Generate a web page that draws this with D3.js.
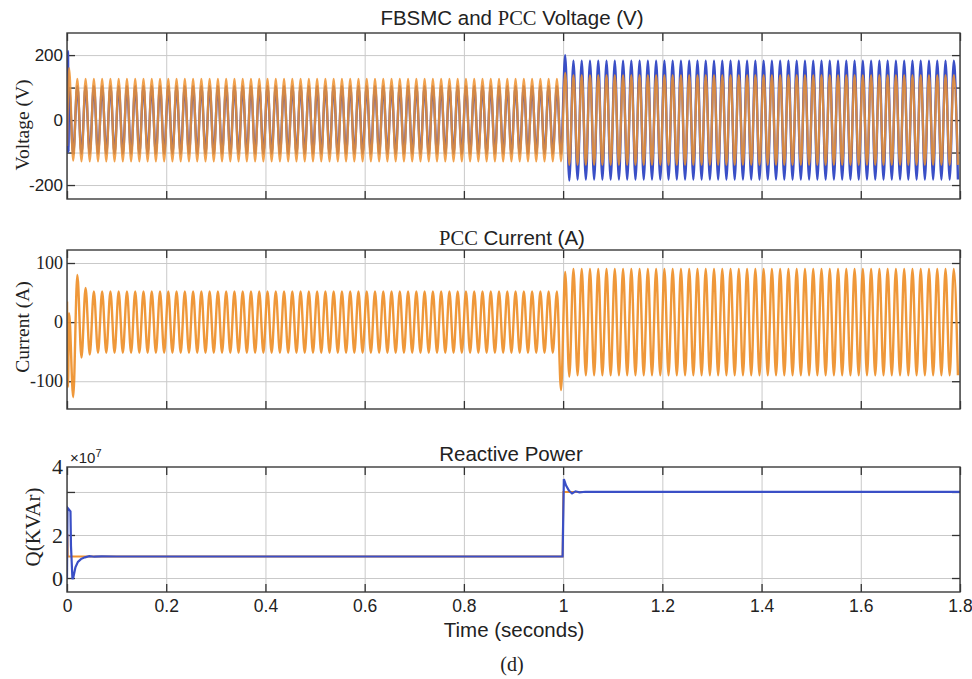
<!DOCTYPE html>
<html>
<head>
<meta charset="utf-8">
<script src="https://cdn.jsdelivr.net/npm/d3@7"></script>
<style>
  body { margin: 0; background: #fff; }
  .sans { font-family: "Liberation Sans", Arial, sans-serif; }
  .serif { font-family: "Liberation Serif", "Times New Roman", serif; }
</style>
</head>
<body>
<svg id="chart" width="972" height="679"></svg>
<script>
// ---- data ----
var gridHz = 60; // each entry below is one half-cycle extreme (|value|), signs alternate +,-,+,...
var timeTicks = [0, 0.2, 0.4, 0.6, 0.8, 1, 1.2, 1.4, 1.6, 1.8];
var timeLabels = ["0", "0.2", "0.4", "0.6", "0.8", "1", "1.2", "1.4", "1.6", "1.8"];

// FBSMC voltage (orange), volts
var vFbsmcStart = [[0, -80]];
var vFbsmcPeaks = [
  160,125,127,127,127,127,127,127,127,127,127,127,127,127,127,127,127,127,127,127,127,127,127,127,
  127,127,127,127,127,127,127,127,127,127,127,127,127,127,127,127,127,127,127,127,127,127,127,127,
  127,127,127,127,127,127,127,127,127,127,127,127,127,127,127,127,127,127,127,127,127,127,127,127,
  127,127,127,127,127,127,127,127,127,127,127,127,127,127,127,127,127,127,127,127,127,127,127,127,
  127,127,127,127,127,127,127,127,127,127,127,127,127,127,127,127,127,127,127,127,127,127,127,127,
  145,138,138,138,138,138,138,138,138,138,138,138,138,138,138,138,138,138,138,138,138,138,138,138,
  138,138,138,138,138,138,138,138,138,138,138,138,138,138,138,138,138,138,138,138,138,138,138,138,
  138,138,138,138,138,138,138,138,138,138,138,138,138,138,138,138,138,138,138,138,138,138,138,138,
  138,138,138,138,138,138,138,138,138,138,138,138,138,138,138,138,138,138,138,138,138,138,138,138
];
// PCC voltage (blue), volts
var vPccStart = [[0, -100], [0.002, 212], [0.003, -98]];
var vPccPeaks = [
  100,104,104,104,104,104,104,104,104,104,104,104,104,104,104,104,104,104,104,104,104,104,104,104,
  104,104,104,104,104,104,104,104,104,104,104,104,104,104,104,104,104,104,104,104,104,104,104,104,
  104,104,104,104,104,104,104,104,104,104,104,104,104,104,104,104,104,104,104,104,104,104,104,104,
  104,104,104,104,104,104,104,104,104,104,104,104,104,104,104,104,104,104,104,104,104,104,104,104,
  104,104,104,104,104,104,104,104,104,104,104,104,104,104,104,104,104,104,104,104,104,104,104,104,
  200,186,183,183,183,183,183,183,183,183,183,183,183,183,183,183,183,183,183,183,183,183,183,183,
  183,183,183,183,183,183,183,183,183,183,183,183,183,183,183,183,183,183,183,183,183,183,183,183,
  183,183,183,183,183,183,183,183,183,183,183,183,183,183,183,183,183,183,183,183,183,183,183,183,
  183,183,183,183,183,183,183,183,183,183,183,183,183,183,183,183,183,183,183,183,183,183,183,183
];
// PCC current (orange), amps
var iPccStart = [[0, 35], [0.002, -110]];
var iPccPeaks = [
   15,127, 80, 60, 58, 55, 52, 52, 52, 52, 52, 52, 52, 52, 52, 52, 52, 52, 52, 52, 52, 52, 52, 52,
   52, 52, 52, 52, 52, 52, 52, 52, 52, 52, 52, 52, 52, 52, 52, 52, 52, 52, 52, 52, 52, 52, 52, 52,
   52, 52, 52, 52, 52, 52, 52, 52, 52, 52, 52, 52, 52, 52, 52, 52, 52, 52, 52, 52, 52, 52, 52, 52,
   52, 52, 52, 52, 52, 52, 52, 52, 52, 52, 52, 52, 52, 52, 52, 52, 52, 52, 52, 52, 52, 52, 52, 52,
   52, 52, 52, 52, 52, 52, 52, 52, 52, 52, 52, 52, 52, 52, 52, 52, 52, 52, 52, 52, 52, 52, 52,115,
   85, 92, 90, 90, 90, 90, 90, 90, 90, 90, 90, 90, 90, 90, 90, 90, 90, 90, 90, 90, 90, 90, 90, 90,
   90, 90, 90, 90, 90, 90, 90, 90, 90, 90, 90, 90, 90, 90, 90, 90, 90, 90, 90, 90, 90, 90, 90, 90,
   90, 90, 90, 90, 90, 90, 90, 90, 90, 90, 90, 90, 90, 90, 90, 90, 90, 90, 90, 90, 90, 90, 90, 90,
   90, 90, 90, 90, 90, 90, 90, 90, 90, 90, 90, 90, 90, 90, 90, 90, 90, 90, 90, 90, 90, 90, 90, 90
];
// reactive power, x1e7
var qRef = [[0, 2], [0.001, 2], [0.0015, 1], [0.999, 1], [1.0005, 4], [1.8, 4]];
var qMeas = [[0, 0], [0.001, 3.26], [0.007, 3.1], [0.008, 1.5], [0.011, -0.05], [0.013, 0.05],
  [0.017, 0.5], [0.022, 0.75], [0.028, 0.88], [0.036, 0.96], [0.045, 1.02], [0.055, 0.99],
  [0.07, 1.01], [0.1, 1.0], [0.999, 1.0], [1.0015, 4.6], [1.006, 4.3], [1.012, 4.05],
  [1.018, 3.93], [1.025, 4.03], [1.033, 3.98], [1.045, 4.01], [1.06, 4.0], [1.8, 4.0]];

var voltTicks = [-200, -100, 0, 100, 200], voltLabels = [-200, 0, 200];
var currTicks = [-100, 0, 100];
var qTicks = [0, 2, 4];

var blue = "#3a4fc6", orange = "#ee922f";

// ---- layout ----
var svg = d3.select("#chart");
var x = d3.scaleLinear().domain([0, 1.8]).range([67, 960]);
var panels = [
  { top: 33, bottom: 199, domain: [-243, 268] },
  { top: 250, bottom: 409, domain: [-147, 122] },
  { top: 467, bottom: 592, domain: [-0.65, 5.16] }
];
panels.forEach(function(p, i) {
  p.y = d3.scaleLinear().domain(p.domain).range([p.bottom, p.top]);
  p.g = svg.append("g");
  svg.append("clipPath").attr("id", "clip" + i).append("rect")
    .attr("x", x(0)).attr("y", p.top).attr("width", x(1.8) - x(0)).attr("height", p.bottom - p.top);
});

function wave(start, peaks) {
  return start.concat(peaks.map(function(m, h) {
    return [(h + 0.5) / (2 * gridHz), h % 2 ? -m : m];
  }));
}

function drawFrame(p, yGrid, yLabelVals, labelClass, labelSize, showX) {
  var g = p.g, w = x(1.8) - x(0), h = p.bottom - p.top;
  // grid
  g.append("g").attr("transform", "translate(0," + p.bottom + ")")
    .call(d3.axisBottom(x).tickValues(timeTicks).tickSize(-h).tickFormat(""))
    .call(function(s) { s.select(".domain").remove(); s.selectAll("line").attr("stroke", "#c9c9c9"); });
  g.append("g").attr("transform", "translate(" + x(0) + ",0)")
    .call(d3.axisLeft(p.y).tickValues(yGrid).tickSize(-w).tickFormat(""))
    .call(function(s) { s.select(".domain").remove(); s.selectAll("line").attr("stroke", "#c9c9c9"); });
  // inner ticks
  var tk = function(s) { s.select(".domain").remove(); s.selectAll("line").attr("stroke", "#333").attr("stroke-width", 1.3); };
  g.append("g").attr("transform", "translate(0," + p.bottom + ")")
    .call(d3.axisBottom(x).tickValues(timeTicks).tickSize(-8).tickFormat("")).call(tk);
  g.append("g").attr("transform", "translate(0," + p.top + ")")
    .call(d3.axisTop(x).tickValues(timeTicks).tickSize(-8).tickFormat("")).call(tk);
  g.append("g").attr("transform", "translate(" + x(1.8) + ",0)")
    .call(d3.axisRight(p.y).tickValues(yGrid).tickSize(-8).tickFormat("")).call(tk);
  var ya = g.append("g").attr("transform", "translate(" + x(0) + ",0)")
    .call(d3.axisLeft(p.y).tickValues(yGrid).tickSize(-8).tickPadding(4)
      .tickFormat(function(d) { return yLabelVals.indexOf(d) >= 0 ? String(d) : ""; }))
    .call(tk);
  ya.selectAll("text").attr("class", labelClass).attr("font-size", labelSize).attr("fill", "#222")
    .attr("font-family", null);
  p.yAxis = ya;
  if (showX) {
    var xa = g.append("g").attr("transform", "translate(0," + p.bottom + ")")
      .call(d3.axisBottom(x).tickValues(timeTicks).tickSize(0).tickPadding(8)
        .tickFormat(function(d, i) { return timeLabels[i]; }));
    xa.select(".domain").remove();
    xa.selectAll("text").attr("class", "sans").attr("font-family", null).attr("font-size", 17.5).attr("fill", "#222");
  }
}

function drawBox(p) {
  p.g.append("rect").attr("x", x(0)).attr("y", p.top)
    .attr("width", x(1.8) - x(0)).attr("height", p.bottom - p.top)
    .attr("fill", "none").attr("stroke", "#3a3a3a").attr("stroke-width", 1.4);
}

function drawSeries(p, i, pts, color, width, op, curve) {
  var line = d3.line().x(function(d) { return x(d[0]); }).y(function(d) { return p.y(d[1]); })
    .curve(curve || d3.curveMonotoneX);
  p.g.append("path").datum(pts).attr("clip-path", "url(#clip" + i + ")")
    .attr("d", line).attr("fill", "none").attr("stroke", color)
    .attr("stroke-width", width).attr("stroke-opacity", op);
}

// panel 1: voltages
var p1 = panels[0];
drawFrame(p1, voltTicks, voltLabels, "sans", 17, false);
drawSeries(p1, 0, wave(vPccStart, vPccPeaks), blue, 2.4, 1);
drawSeries(p1, 0, wave(vFbsmcStart, vFbsmcPeaks), orange, 2.3, 0.85);
drawBox(p1);

// panel 2: current
var p2 = panels[1];
drawFrame(p2, currTicks, currTicks, "serif", 18, false);
drawSeries(p2, 1, wave(iPccStart, iPccPeaks), orange, 2.4, 0.95);
drawBox(p2);

// panel 3: reactive power
var p3 = panels[2];
drawFrame(p3, qTicks, qTicks, "serif", 22, true);
drawSeries(p3, 2, qRef, orange, 2, 1, d3.curveLinear);
drawSeries(p3, 2, qMeas, blue, 2.2, 1, d3.curveLinear);
drawBox(p3);
// the "4" label sits at the top edge in the original
p3.yAxis.selectAll(".tick").filter(function(d) { return d === 4; }).select("text")
  .attr("dy", (p3.top + 6 - p3.y(4)) + "px");

// ---- texts ----
var t1 = svg.append("text").attr("class", "sans").attr("x", 512).attr("y", 25)
  .attr("text-anchor", "middle").attr("font-size", 20.5).attr("fill", "#222");
t1.append("tspan").text("FBSMC and ");
t1.append("tspan").attr("class", "serif").text("PCC");
t1.append("tspan").text(" Voltage (V)");

var t2 = svg.append("text").attr("class", "sans").attr("x", 512).attr("y", 245)
  .attr("text-anchor", "middle").attr("font-size", 20.5).attr("fill", "#222");
t2.append("tspan").attr("class", "serif").text("PCC");
t2.append("tspan").text(" Current (A)");

svg.append("text").attr("class", "sans").attr("x", 511).attr("y", 461)
  .attr("text-anchor", "middle").attr("font-size", 20.5).attr("fill", "#222").text("Reactive Power");

svg.append("text").attr("class", "sans").attr("x", 514).attr("y", 637)
  .attr("text-anchor", "middle").attr("font-size", 20.5).attr("fill", "#222").text("Time (seconds)");

svg.append("text").attr("class", "serif").attr("x", 512).attr("y", 671)
  .attr("text-anchor", "middle").attr("font-size", 20).attr("fill", "#222").text("(d)");

var e = svg.append("text").attr("class", "sans").attr("x", 70).attr("y", 463)
  .attr("font-size", 15).attr("fill", "#222");
e.append("tspan").text("\u00d710");
e.append("tspan").attr("dy", -6).attr("font-size", 11).text("7");

function yLabel(txt, cx, cy, size) {
  svg.append("text").attr("class", "serif").attr("transform", "translate(" + cx + "," + cy + ") rotate(-90)")
    .attr("text-anchor", "middle").attr("font-size", size).attr("fill", "#222").text(txt);
}
yLabel("Voltage (V)", 29, 125, 19.5);
yLabel("Current (A)", 29, 327, 19.5);
yLabel("Q(KVAr)", 40, 527, 21);
</script>
</body>
</html>
